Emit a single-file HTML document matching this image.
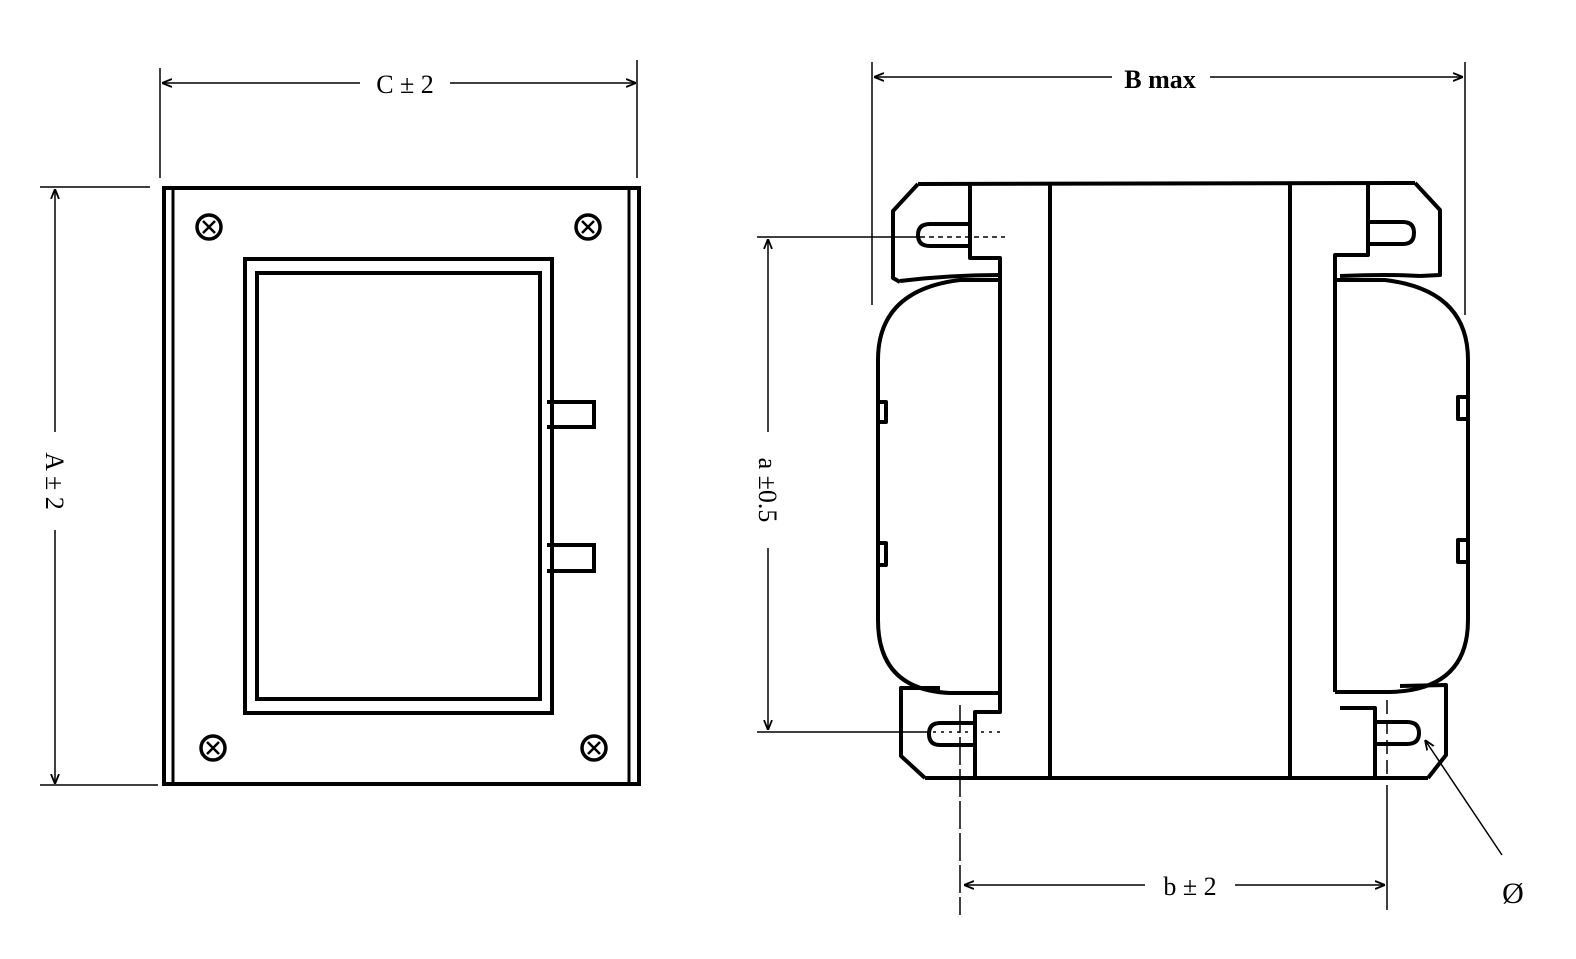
<!DOCTYPE html>
<html><head><meta charset="utf-8"><style>
html,body{margin:0;padding:0;background:#fff;}
svg{display:block;}
text{font-family:"Liberation Serif",serif;fill:#000;}
</style></head><body>
<svg width="1576" height="959" viewBox="0 0 1576 959" xmlns="http://www.w3.org/2000/svg">
<defs>
<marker id="ar" viewBox="0 0 10 10" refX="10" refY="5" markerWidth="10" markerHeight="10" orient="auto-start-reverse" markerUnits="userSpaceOnUse">
<path d="M0,1 L10,5 L0,9" fill="none" stroke="#000" stroke-width="1.8"/>
</marker>
</defs>
<g fill="none" stroke="#000">
<!-- LEFT VIEW -->
<g stroke-width="1.5">
<line x1="160" y1="68" x2="160" y2="178"/>
<line x1="637" y1="60" x2="637" y2="178"/>
<line x1="162" y1="83" x2="360" y2="83" marker-start="url(#ar)"/>
<line x1="450" y1="83" x2="636" y2="83" marker-end="url(#ar)"/>
<line x1="40" y1="187" x2="150" y2="187"/>
<line x1="40" y1="785" x2="158" y2="785"/>
<line x1="55" y1="189" x2="55" y2="432" marker-start="url(#ar)"/>
<line x1="55" y1="530" x2="55" y2="784" marker-end="url(#ar)"/>
</g>
<g stroke-width="4">
<rect x="164" y="188" width="475" height="596"/>
<line x1="173" y1="190" x2="173" y2="782" stroke-width="3"/>
<line x1="629" y1="190" x2="629" y2="782" stroke-width="3"/>
<rect x="245" y="259" width="307" height="454"/>
<rect x="257" y="273" width="283" height="426"/>
<polyline points="547,402 594,402 594,427 547,427"/>
<polyline points="547,545 594,545 594,571 547,571"/>
</g>
<g stroke-width="3.5">
<circle cx="209" cy="227" r="12"/><path d="M203,221 L215,233 M215,221 L203,233" stroke-width="2.5"/>
<circle cx="588" cy="227" r="12"/><path d="M582,221 L594,233 M594,221 L582,233" stroke-width="2.5"/>
<circle cx="213" cy="748" r="12"/><path d="M207,742 L219,754 M219,742 L207,754" stroke-width="2.5"/>
<circle cx="594" cy="748" r="12"/><path d="M588,742 L600,754 M600,742 L588,754" stroke-width="2.5"/>
</g>

<!-- RIGHT VIEW dimensions -->
<g stroke-width="1.5">
<line x1="872" y1="62" x2="872" y2="305"/>
<line x1="1465" y1="62" x2="1465" y2="315"/>
<line x1="874" y1="77" x2="1112" y2="77" marker-start="url(#ar)"/>
<line x1="1210" y1="77" x2="1463" y2="77" marker-end="url(#ar)"/>
<line x1="757" y1="237" x2="920" y2="237"/>
<line x1="920" y1="237" x2="1005" y2="237" stroke-dasharray="5,4"/>
<line x1="757" y1="732" x2="925" y2="732"/>
<line x1="925" y1="732" x2="1005" y2="732" stroke-dasharray="3,5"/>
<line x1="768" y1="239" x2="768" y2="432" marker-start="url(#ar)"/>
<line x1="768" y1="548" x2="768" y2="730" marker-end="url(#ar)"/>
<line x1="960" y1="705" x2="960" y2="915" stroke-dasharray="28,4"/>
<line x1="1387" y1="700" x2="1387" y2="780" stroke-dasharray="14,6"/>
<line x1="1387" y1="785" x2="1387" y2="910"/>
<line x1="964" y1="885" x2="1145" y2="885" marker-start="url(#ar)"/>
<line x1="1235" y1="885" x2="1385" y2="885" marker-end="url(#ar)"/>
<line x1="1502" y1="855" x2="1425" y2="740" marker-end="url(#ar)"/>
</g>
<!-- RIGHT VIEW body -->
<g stroke-width="4" stroke-linejoin="round">
<line x1="918" y1="184" x2="1415" y2="183"/>
<line x1="925" y1="778" x2="1428" y2="778"/>
<line x1="1050" y1="185" x2="1050" y2="778"/>
<line x1="1290" y1="185" x2="1290" y2="778"/>
<!-- top-left flange -->
<polyline points="918,184 893,211 893,278 900,282"/>
<path d="M900,281 Q950,275 1000,275"/>
<polyline points="970,185 970,258 1000,258 1000,692"/>
<path d="M970,224 L930,224 Q918,224 918,235 Q918,246 930,246 L970,246"/>
<!-- top-right flange -->
<polyline points="1415,183 1440,210 1440,275 1420,276"/>
<path d="M1340,276 Q1390,274 1420,276"/>
<polyline points="1368,185 1368,255 1335,255 1335,692"/>
<path d="M1368,222 L1403,222 Q1414,222 1414,233 Q1414,244 1403,244 L1368,244"/>
<!-- coils -->
<path d="M1000,280 L960,280 Q878,290 878,360 L878,620 Q878,690 950,693 L1000,693"/>
<path d="M1335,280 L1385,280 Q1468,290 1468,360 L1468,620 Q1468,690 1390,692 L1335,692"/>
<polyline points="878,402 886,402 886,422 878,422"/>
<polyline points="878,543 886,543 886,565 878,565"/>
<polyline points="1468,397 1458,397 1458,419 1468,419"/>
<polyline points="1468,540 1458,540 1458,562 1468,562"/>
<!-- bottom-left flange -->
<polyline points="940,688 901,688 901,756 925,778"/>
<polyline points="1000,692 1000,712 975,712 975,778"/>
<path d="M975,723 L940,723 Q929,723 929,734 Q929,745 940,745 L975,745"/>
<!-- bottom-right flange -->
<polyline points="1400,686 1446,685 1446,755 1428,778"/>
<polyline points="1340,708 1375,708 1375,778"/>
<path d="M1375,722 L1407,722 Q1419,722 1419,733 Q1419,744 1407,744 L1375,744"/>
</g>
</g>
<text x="405" y="93" font-size="26" text-anchor="middle">C ± 2</text>
<text x="1160" y="88" font-size="26" text-anchor="middle" font-weight="bold">B max</text>
<text x="1190" y="895" font-size="26" text-anchor="middle">b ± 2</text>
<text x="1513" y="903" font-size="30" text-anchor="middle">Ø</text>
<text transform="translate(46,481) rotate(90)" font-size="26" text-anchor="middle">A ± 2</text>
<text transform="translate(759,490) rotate(90)" font-size="26" text-anchor="middle">a ±0.5</text>
</svg>
</body></html>
